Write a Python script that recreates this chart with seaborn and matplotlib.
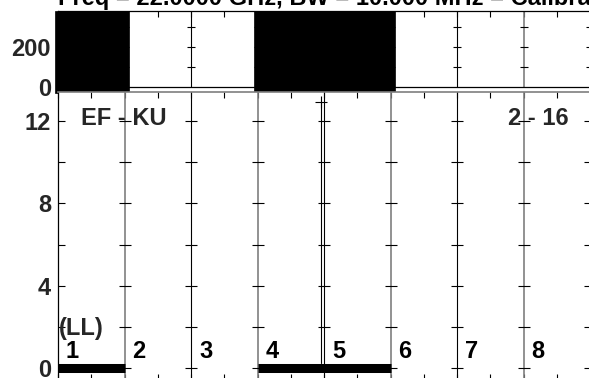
import matplotlib
matplotlib.use("Agg")
import matplotlib.pyplot as plt
import seaborn as sns
import pandas as pd
import numpy as np

# ---------------- data ----------------
title_text = "Freq = 22.0000 GHz, BW = 10.000 MHz = Calibrate"
cells = [1, 2, 3, 4, 5, 6, 7, 8]
cell_labels = ["1", "2", "3", "4", "5", "6", "7", "8"]
boundaries = [1, 2, 3, 4, 5, 6, 7, 8]
# noise blocks in the top panel (start cell edge, end cell edge, level)
noise_start = [0.0, 3.0]
noise_end = [1.0, 5.0]
noise_top = [380, 380]
noise_bottom = [-30, -30]
# thick bars at zero level in the bottom panel
bar_start = [0.0, 3.0]
bar_end = [1.0, 5.0]
bar_level = [0.0, 0.0]
# single spike line
spike_x = [3.96]
spike_low = [0.25]
spike_high = [12.9]
top_yticks = [0, 100, 200, 300]
top_ylabels = ["0", "", "200", ""]
bot_yticks = [0, 2, 4, 6, 8, 10, 12]
bot_ylabels = ["0", "", "4", "", "8", "", "12"]

sns.set_theme(style="white")
plt.rcParams["font.family"] = ["Liberation Sans", "DejaVu Sans"]
plt.rcParams["font.weight"] = "bold"

W, H = 589, 378
fig = plt.figure(figsize=(W / 100, H / 100), dpi=100)
ax_top = fig.add_axes([58 / W, 1 - 87 / H, 532 / W, 76 / H])
ax_bot = fig.add_axes([58 / W, 1 - 380 / H, 532 / W, 288 / H])

GRAY = "#7f7f7f"
FS = 17

def bline_style(b):
    return (GRAY, 1.2) if b % 2 == 1 else ("black", 0.8)

# ---------- top panel ----------
ax_top.set_xlim(0, 8)
ax_top.set_ylim(0, 380)
for b in boundaries:
    c, lw = bline_style(b)
    ax_top.axvline(b, color=c, lw=lw, zorder=1)
cross_top = pd.DataFrame([(b, y) for b in boundaries for y in top_yticks[1:]], columns=["x", "y"])
sns.scatterplot(data=cross_top, x="x", y="y", marker="_", s=40, color="black",
                linewidth=0.8, ax=ax_top, zorder=2, legend=False)
for s, e, t, b0 in zip(noise_start, noise_end, noise_top, noise_bottom):
    ax_top.bar(s - 0.05, t - b0, bottom=b0, width=(e - s) + 0.12, align="edge",
               color="black", edgecolor="black", lw=0.5, clip_on=False, zorder=3)
ax_top.set_yticks(top_yticks)
ax_top.set_yticklabels(top_ylabels, fontsize=FS, fontweight="bold")
ax_top.set_xticks(range(0, 9))
ax_top.set_xticks(np.arange(0.5, 8, 1), minor=True)
ax_top.tick_params(axis="x", which="both", direction="in", top=True, bottom=False,
                   labelbottom=False, length=4, width=0.8, color="black")
ax_top.tick_params(axis="y", which="both", direction="in", left=True, length=4,
                   width=0.8, pad=5, color="black")
for sp in ["left", "top", "bottom"]:
    ax_top.spines[sp].set_color("black")
    ax_top.spines[sp].set_linewidth(0.9)
ax_top.spines["right"].set_visible(False)
ax_top.set_xlabel("")
ax_top.set_ylabel("")

# ---------- bottom panel ----------
ax_bot.set_xlim(0, 8)
ax_bot.set_ylim(-0.583, 13.41)
for b in boundaries:
    c, lw = bline_style(b)
    ax_bot.axvline(b, color=c, lw=lw, zorder=1)
cross_bot = pd.DataFrame([(b, y) for b in boundaries for y in bot_yticks], columns=["x", "y"])
sns.scatterplot(data=cross_bot, x="x", y="y", marker="_", s=75, color="black",
                linewidth=0.8, ax=ax_bot, zorder=2, legend=False)
# thick bars at zero
seg = pd.DataFrame(
    [(i, s, l) for i, (s, e, l) in enumerate(zip(bar_start, bar_end, bar_level)) for s in (s, e)],
    columns=["seg", "x", "y"])
sns.lineplot(data=seg, x="x", y="y", units="seg", estimator=None, color="black",
             lw=6.5, ax=ax_bot, legend=False, solid_capstyle="butt", zorder=4)
# spike
for x, lo, hi in zip(spike_x, spike_low, spike_high):
    ax_bot.plot([x, x], [lo, hi], color="black", lw=0.8, zorder=3)
    ax_bot.plot([x], [hi], marker="+", ms=9, mew=0.8, color="black", zorder=3)
# cell labels
for c, lab in zip(cells, cell_labels):
    ax_bot.text(c - 1 + 0.12, 0.5, lab, fontsize=FS, fontweight="bold", ha="left",
                va="baseline", color="black")
ax_bot.text(0.02, 1.6, "(LL)", fontsize=FS, fontweight="bold", ha="left", va="baseline")
ax_bot.text(0.34, 11.8, "EF - KU", fontsize=FS, fontweight="bold", ha="left", va="baseline")
ax_bot.text(6.76, 11.8, "2 - 16", fontsize=FS, fontweight="bold", ha="left", va="baseline")

ax_bot.set_yticks(bot_yticks)
ax_bot.set_yticklabels(bot_ylabels, fontsize=FS, fontweight="bold")
ax_bot.set_xticks(range(0, 9))
ax_bot.set_xticks(np.arange(0.5, 8, 1), minor=True)
ax_bot.tick_params(axis="x", which="both", direction="in", top=True, bottom=True,
                   labelbottom=False, length=4, width=0.8, color="black")
ax_bot.tick_params(axis="y", which="both", direction="in", left=True, length=5,
                   width=0.8, pad=5, color="black")
ax_bot.spines["left"].set_color("black")
ax_bot.spines["left"].set_linewidth(0.9)
ax_bot.spines["top"].set_color(GRAY)
ax_bot.spines["top"].set_linewidth(1.2)
ax_bot.spines["bottom"].set_color("black")
ax_bot.spines["right"].set_visible(False)
ax_bot.set_xlabel("")
ax_bot.set_ylabel("")

fig.text(58 / W, 1 - 5 / H, title_text, fontsize=FS, fontweight="bold",
         ha="left", va="baseline", color="black")

fig.savefig("out.png", dpi=100)
